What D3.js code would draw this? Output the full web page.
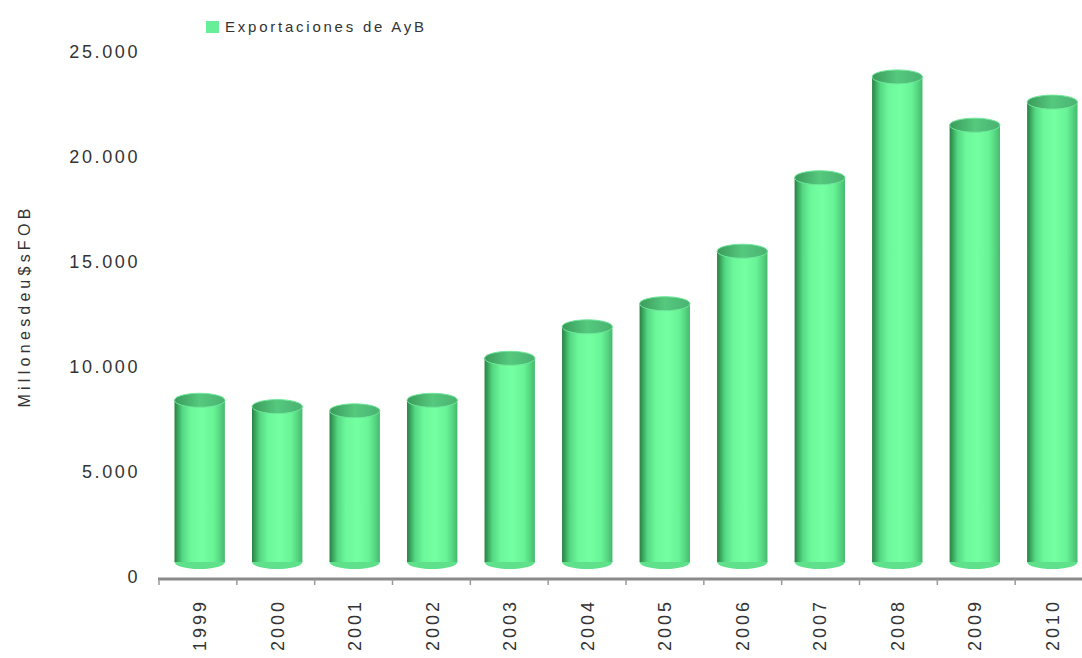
<!DOCTYPE html>
<html>
<head>
<meta charset="utf-8">
<script src="https://cdn.jsdelivr.net/npm/d3@7"></script>
<style>
  html, body { margin: 0; padding: 0; background: #fff; }
  svg { display: block; }
  text { font-family: "Liberation Sans", "DejaVu Sans", sans-serif; fill: #333; }
</style>
</head>
<body>
<svg id="chart" width="1082" height="658"></svg>
<script>
// ---- data ----
const years = ["1999","2000","2001","2002","2003","2004","2005","2006","2007","2008","2009","2010"];
const exportsAyB = [7700, 7400, 7200, 7700, 9700, 11200, 12300, 14800, 18300, 23100, 20800, 21900];
const yTicks = [0, 5000, 10000, 15000, 20000, 25000];
const seriesName = "Exportaciones de AyB";
const yTitle = "Millones de u$s FOB";

// ---- layout ----
const W = 1082, H = 658;
const mLeft = 159, mRight = 1093, mTop = 52, mBottom = 577;
const depthDy = -15;   // 3D set-back of the cylinders
const svg = d3.select("#chart");

const x = d3.scaleBand().domain(years).range([mLeft, mRight]).paddingInner(0.35).paddingOuter(0.2);
const y = d3.scaleLinear().domain([0, 25000]).range([mBottom, mTop]);

// gradients
const defs = svg.append("defs");
const g1 = defs.append("linearGradient").attr("id", "body").attr("x1", "0").attr("x2", "1").attr("y1", "0").attr("y2", "0");
[[0, "#2c7f45"], [0.06, "#36a35a"], [0.16, "#55d883"], [0.32, "#6cf79a"], [0.55, "#74ffa3"], [0.78, "#68f396"], [0.9, "#56d682"], [1, "#47b96d"]]
  .forEach(([o, c]) => g1.append("stop").attr("offset", o).attr("stop-color", c));
const g2 = defs.append("linearGradient").attr("id", "cap").attr("x1", "0").attr("x2", "1").attr("y1", "0").attr("y2", "0");
[[0, "#3a9a5a"], [0.5, "#55c97e"], [1, "#4ab271"]]
  .forEach(([o, c]) => g2.append("stop").attr("offset", o).attr("stop-color", c));

// y axis labels
svg.append("g").selectAll("text").data(yTicks).join("text")
  .attr("x", 140).attr("y", d => y(d)).attr("dy", "0.35em")
  .attr("text-anchor", "end")
  .style("font-size", "18px").style("letter-spacing", "2.6px")
  .text(d => d3.format(",")(d).replace(/,/g, "."));

// y title
svg.append("text")
  .attr("transform", "translate(30,306) rotate(-90)")
  .attr("text-anchor", "middle")
  .style("font-size", "16px").style("letter-spacing", "4.3px").style("word-spacing", "-9px")
  .text(yTitle);

// cylinders
const ry = 7;
const bars = svg.append("g").selectAll("g").data(years.map((yr, i) => ({ yr, v: exportsAyB[i] }))).join("g");
bars.append("ellipse")
  .attr("cx", d => x(d.yr) + x.bandwidth() / 2)
  .attr("cy", y(0) + depthDy)
  .attr("rx", x.bandwidth() / 2).attr("ry", ry)
  .attr("fill", "#5fe08b");
bars.append("rect")
  .attr("x", d => x(d.yr))
  .attr("y", d => y(d.v) + depthDy)
  .attr("width", x.bandwidth())
  .attr("height", d => y(0) - y(d.v))
  .attr("fill", "url(#body)");
bars.append("ellipse")
  .attr("cx", d => x(d.yr) + x.bandwidth() / 2)
  .attr("cy", d => y(d.v) + depthDy)
  .attr("rx", x.bandwidth() / 2).attr("ry", ry)
  .attr("fill", "url(#cap)")
  .attr("stroke", "#6ee89a").attr("stroke-width", 1);

// x axis
const xb = d3.scaleLinear().domain([0, years.length]).range([mLeft, mRight]);
svg.append("line").attr("x1", mLeft - 1).attr("x2", W).attr("y1", mBottom + 2).attr("y2", mBottom + 2)
  .attr("stroke", "#8a8a8a").attr("stroke-width", 3);
svg.append("g").selectAll("line").data(d3.range(years.length)).join("line")
  .attr("x1", d => xb(d)).attr("x2", d => xb(d))
  .attr("y1", mBottom + 2).attr("y2", mBottom + 8)
  .attr("stroke", "#9a9a9a").attr("stroke-width", 1.5);
svg.append("g").selectAll("text").data(years).join("text")
  .attr("transform", d => `translate(${x(d) + x.bandwidth() / 2},${mBottom + 22}) rotate(-90)`)
  .attr("text-anchor", "end").attr("dy", "0.35em")
  .style("font-size", "18px").style("letter-spacing", "3px")
  .text(d => d);

// legend
svg.append("rect").attr("x", 206).attr("y", 21).attr("width", 13).attr("height", 12).attr("fill", "#66ee99");
svg.append("text").attr("x", 225).attr("y", 27).attr("dy", "0.35em")
  .style("font-size", "15px")
  .attr("textLength", 199).attr("lengthAdjust", "spacing")
  .text(seriesName);
</script>
</body>
</html>
